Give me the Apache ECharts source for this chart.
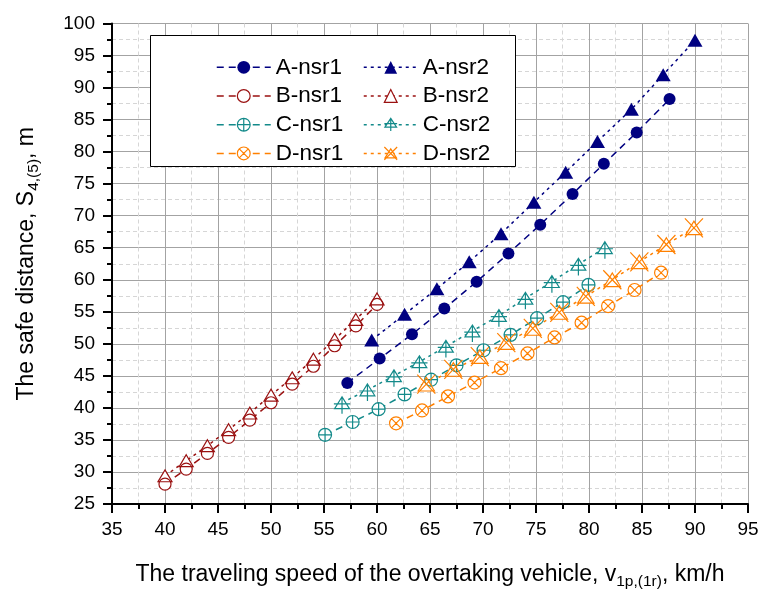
<!DOCTYPE html>
<html>
<head>
<meta charset="utf-8">
<script src="https://cdn.jsdelivr.net/npm/echarts@6/dist/echarts.min.js"></script>
<style>
  html, body { margin: 0; padding: 0; background: #fff; }
  #chart { width: 758px; height: 591px; }
</style>
</head>
<body>
<div id="chart"></div>
<script>
// Axis ticks
const speedTicks = [35, 40, 45, 50, 55, 60, 65, 70, 75, 80, 85, 90, 95];
const distanceTicks = [25, 30, 35, 40, 45, 50, 55, 60, 65, 70, 75, 80, 85, 90, 95, 100];

// Series names
const seriesNames = ['A-nsr1', 'A-nsr2', 'B-nsr1', 'B-nsr2', 'C-nsr1', 'C-nsr2', 'D-nsr1', 'D-nsr2'];

// Speed (km/h) and safe distance (m) for each series
const aNsr1Speed = [57.2, 60.25, 63.3, 66.35, 69.4, 72.4, 75.4, 78.45, 81.4, 84.5, 87.6];
const aNsr1Distance = [43.9, 47.7, 51.5, 55.5, 59.7, 64.1, 68.6, 73.4, 78.1, 83.0, 88.2];

const aNsr2Speed = [59.5, 62.6, 65.65, 68.7, 71.7, 74.8, 77.8, 80.8, 84.0, 87.0, 90.0];
const aNsr2Distance = [50.6, 54.6, 58.6, 62.8, 67.2, 72.1, 76.8, 81.6, 86.6, 92.0, 97.4];

const bNsr1Speed = [40, 42, 44, 46, 48, 50, 52, 54, 56, 58, 60];
const bNsr1Distance = [28.1, 30.45, 32.9, 35.4, 38.1, 40.8, 43.7, 46.5, 49.7, 52.8, 56.15];

const bNsr2Speed = [40, 42, 44, 46, 48, 50, 52, 54, 56, 58, 60];
const bNsr2Distance = [29.4, 31.75, 34.1, 36.6, 39.2, 42.0, 44.7, 47.6, 50.7, 53.8, 57.0];

const cNsr1Speed = [55.1, 57.7, 60.15, 62.6, 65.1, 67.5, 70.05, 72.6, 75.1, 77.55, 79.95];
const cNsr1Distance = [35.8, 37.8, 39.8, 42.1, 44.4, 46.65, 49.0, 51.4, 54.0, 56.5, 59.2];

const cNsr2Speed = [56.7, 59.1, 61.6, 64.0, 66.5, 69.0, 71.5, 74.0, 76.5, 79.0, 81.5];
const cNsr2Distance = [40.8, 42.8, 45.0, 47.2, 49.6, 52.0, 54.4, 57.1, 59.7, 62.4, 65.0];

const dNsr1Speed = [61.8, 64.25, 66.7, 69.2, 71.7, 74.2, 76.75, 79.3, 81.8, 84.3, 86.8];
const dNsr1Distance = [37.6, 39.6, 41.8, 43.95, 46.2, 48.5, 51.0, 53.3, 55.9, 58.4, 61.1];

const dNsr2Speed = [64.65, 67.2, 69.7, 72.2, 74.7, 77.2, 79.7, 82.2, 84.75, 87.3, 89.9];
const dNsr2Distance = [43.7, 46.0, 48.0, 50.2, 52.4, 54.9, 57.4, 60.0, 62.8, 65.5, 68.1];

const FONT = '"Liberation Sans", Arial, sans-serif';
const NAVY = '#000080';
const RED = '#9a1111';
const TEAL = '#138a8a';
const ORANGE = '#ff8000';
const DASHED = [7, 5];
const DOTTED = [3, 4];

// Marker outlines
const SYM_CIRCLE_OPEN = 'path://M10,0A10,10,0,1,1,10,20A10,10,0,1,1,10,0Z';
const SYM_TRI_OPEN = 'path://M10,0L20,17L0,17Z';
const SYM_CIRCLE_PLUS = 'path://M10,0A10,10,0,1,1,10,20A10,10,0,1,1,10,0ZM0,10L20,10M10,0L10,20';
const SYM_TRI_PLUS = 'path://M11,0L21,16L1,16ZM0,9.5L22,9.5M11,0L11,23';
const SYM_CIRCLE_X = 'path://M10,0A10,10,0,1,1,10,20A10,10,0,1,1,10,0ZM2.93,2.93L17.07,17.07M17.07,2.93L2.93,17.07';
const SYM_TRI_X = 'path://M10,3L19,18L1,18ZM0,0L20,21M20,0L0,21';

// mask: white shape under each open marker so connecting lines stop at its edge
const looks = {
  'A-nsr1': { color: NAVY, dash: DASHED, symbol: 'circle', size: 12, filled: true },
  'A-nsr2': { color: NAVY, dash: DOTTED, symbol: 'triangle', size: [15, 13], filled: true },
  'B-nsr1': { color: RED, dash: DASHED, symbol: SYM_CIRCLE_OPEN, size: 12, mask: ['circle', 11] },
  'B-nsr2': { color: RED, dash: DOTTED, symbol: SYM_TRI_OPEN, size: 14, mask: ['triangle', [12.5, 10.5]] },
  'C-nsr1': { color: TEAL, dash: DASHED, symbol: SYM_CIRCLE_PLUS, size: 13, mask: ['circle', 12] },
  'C-nsr2': { color: TEAL, dash: DOTTED, symbol: SYM_TRI_PLUS, size: 17, offset: [0, 2.5], mask: ['triangle', [13.5, 11]] },
  'D-nsr1': { color: ORANGE, dash: DASHED, symbol: SYM_CIRCLE_X, size: 13, mask: ['circle', 12] },
  'D-nsr2': { color: ORANGE, dash: DOTTED, symbol: SYM_TRI_X, size: 19, mask: ['triangle', [15, 12.5]] }
};

const dataBySeries = {
  'A-nsr1': [aNsr1Speed, aNsr1Distance],
  'A-nsr2': [aNsr2Speed, aNsr2Distance],
  'B-nsr1': [bNsr1Speed, bNsr1Distance],
  'B-nsr2': [bNsr2Speed, bNsr2Distance],
  'C-nsr1': [cNsr1Speed, cNsr1Distance],
  'C-nsr2': [cNsr2Speed, cNsr2Distance],
  'D-nsr1': [dNsr1Speed, dNsr1Distance],
  'D-nsr2': [dNsr2Speed, dNsr2Distance]
};

function points(name) {
  const xs = dataBySeries[name][0];
  const ys = dataBySeries[name][1];
  return xs.map(function (x, i) { return [x, ys[i]]; });
}

function markerStyle(lk, fill) {
  return lk.filled
    ? { color: lk.color, borderWidth: 0, opacity: 1 }
    : { color: fill, borderColor: lk.color, borderWidth: 1.2, opacity: 1 };
}

const series = [];

// connecting lines (bottom layer)
seriesNames.forEach(function (name) {
  const lk = looks[name];
  series.push({
    id: name + '-line',
    type: 'line',
    data: points(name),
    symbol: 'none',
    lineStyle: { color: lk.color, width: 1.5, type: lk.dash },
    emphasis: { disabled: true },
    silent: true,
    z: 2
  });
});

// white fills inside open markers
seriesNames.forEach(function (name) {
  const lk = looks[name];
  if (!lk.mask) return;
  series.push({
    id: name + '-fill',
    type: 'scatter',
    data: points(name),
    symbol: lk.mask[0],
    symbolSize: lk.mask[1],
    itemStyle: { color: '#fff', borderWidth: 0, opacity: 1 },
    emphasis: { disabled: true },
    silent: true,
    z: 3
  });
});

// markers (top layer, named for the legend)
seriesNames.forEach(function (name) {
  const lk = looks[name];
  series.push({
    name: name,
    type: 'line',
    data: points(name),
    symbol: lk.symbol,
    symbolSize: lk.size,
    symbolKeepAspect: true,
    symbolOffset: lk.offset || [0, 0],
    showAllSymbol: true,
    lineStyle: { color: lk.color, width: 0, opacity: 0 },
    itemStyle: markerStyle(lk, 'rgba(0,0,0,0)'),
    emphasis: { disabled: true },
    z: 4
  });
});

function legendItems(names) {
  return names.map(function (name) {
    const lk = looks[name];
    return {
      name: name,
      itemStyle: markerStyle(lk, '#fff'),
      lineStyle: { color: lk.color, width: 1.5, type: lk.dash, opacity: 1 }
    };
  });
}

const legendCommon = {
  orient: 'vertical',
  top: 55.3,
  padding: 0,
  itemWidth: 54,
  itemHeight: 16,
  itemGap: 4.7,
  selectedMode: false,
  z: 20,
  textStyle: { fontFamily: FONT, fontSize: 22.5, lineHeight: 24, color: '#000' }
};

function axisCommon() {
  return {
    type: 'value',
    axisLine: { show: true, onZero: false, lineStyle: { color: '#000', width: 2 } },
    axisTick: { show: true, inside: false, length: 9, lineStyle: { color: '#000', width: 2 } },
    minorTick: { show: true, splitNumber: 2, length: 5, lineStyle: { color: '#000', width: 2 } },
    splitLine: { show: true, lineStyle: { color: '#a3a3a3', width: 1 } },
    minorSplitLine: { show: true, lineStyle: { color: '#d6d6d6', width: 1, type: [4, 3] } },
    nameLocation: 'middle',
    nameTextStyle: {
      fontFamily: FONT, fontSize: 23, color: '#000',
      rich: {
        m: { fontFamily: FONT, fontSize: 23, color: '#000', lineHeight: 27 },
        s: { fontFamily: FONT, fontSize: 15.5, color: '#000', lineHeight: 18, padding: [14, 0, 0, 0] }
      }
    }
  };
}

const xAxis = Object.assign(axisCommon(), {
  min: speedTicks[0],
  max: speedTicks[speedTicks.length - 1],
  interval: speedTicks[1] - speedTicks[0],
  axisLabel: { fontFamily: FONT, fontSize: 19, color: '#000', margin: 16 },
  name: '{m|The traveling speed of the overtaking vehicle, v}{s|1p,(1r)}{m|, km/h}',
  nameGap: 57
});

const yAxis = Object.assign(axisCommon(), {
  min: distanceTicks[0],
  max: distanceTicks[distanceTicks.length - 1],
  interval: distanceTicks[1] - distanceTicks[0],
  axisLabel: { fontFamily: FONT, fontSize: 19, color: '#000', margin: 17 },
  name: '{m|The safe distance, S}{s|4,(5)}{m|, m}',
  nameRotate: 90,
  nameGap: 72
});

const chart = echarts.init(document.getElementById('chart'), null, { renderer: 'canvas' });
chart.setOption({
  animation: false,
  backgroundColor: '#fff',
  grid: { left: 112, right: 10, top: 23.5, bottom: 87, containLabel: false, outerBoundsMode: 'none' },
  xAxis: xAxis,
  yAxis: yAxis,
  legend: [
    Object.assign({}, legendCommon, { left: 216, data: legendItems(['A-nsr1', 'B-nsr1', 'C-nsr1', 'D-nsr1']) }),
    Object.assign({}, legendCommon, { left: 363, data: legendItems(['A-nsr2', 'B-nsr2', 'C-nsr2', 'D-nsr2']) })
  ],
  graphic: [{
    type: 'rect',
    z: 10,
    shape: { x: 150.5, y: 35.5, width: 365, height: 131 },
    style: { fill: '#fff', stroke: '#000', lineWidth: 1 }
  }],
  series: series
});
</script>
</body>
</html>
